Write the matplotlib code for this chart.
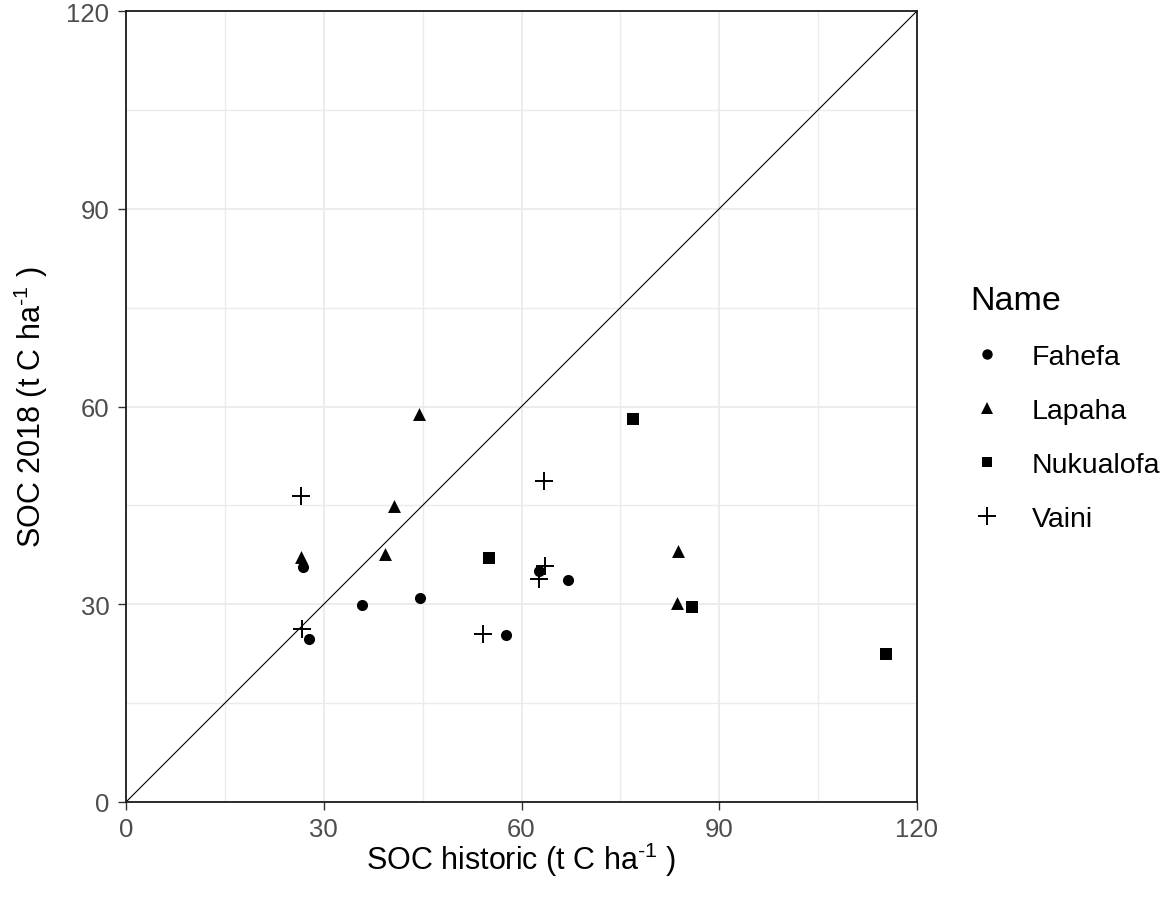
import matplotlib
matplotlib.use("Agg")
import matplotlib.pyplot as plt
from matplotlib.lines import Line2D

plt.rcParams['font.family'] = ['Liberation Sans', 'DejaVu Sans']
plt.rcParams['mathtext.fontset'] = 'custom'
plt.rcParams['mathtext.rm'] = 'Liberation Sans'
plt.rcParams['mathtext.it'] = 'Liberation Sans'

# Data
fahefa_x = [27.7, 26.8, 35.8, 44.6, 57.7, 62.7, 67.1]
fahefa_y = [24.7, 35.7, 29.9, 31.0, 25.3, 35.0, 33.7]
lapaha_x = [44.5, 40.7, 26.6, 39.3, 83.8, 83.6]
lapaha_y = [58.8, 44.9, 37.2, 37.6, 38.1, 30.2]
nuku_x = [76.9, 55.1, 85.9, 115.3]
nuku_y = [58.1, 37.0, 29.6, 22.5]
vaini_x = [26.6, 26.7, 63.4, 63.6, 62.7, 54.2]
vaini_y = [46.4, 26.3, 48.7, 35.8, 33.8, 25.5]

names = ["Fahefa", "Lapaha", "Nukualofa", "Vaini"]
ticks = [0, 30, 60, 90, 120]
minor_ticks = [15, 45, 75, 105]

W, H = 1171, 904
fig = plt.figure(figsize=(W / 100, H / 100), dpi=100)
ax = fig.add_axes([126 / W, 1 - 803 / H, (917 - 126) / W, (803 - 12) / H])

ax.set_xlim(0, 120)
ax.set_ylim(0, 120)
ax.set_xticks(ticks)
ax.set_yticks(ticks)
ax.set_xticks(minor_ticks, minor=True)
ax.set_yticks(minor_ticks, minor=True)
ax.grid(True, which='major', color='#EBEBEB', linewidth=1.3, zorder=0)
ax.grid(True, which='minor', color='#EBEBEB', linewidth=1.0, zorder=0)
ax.set_axisbelow(True)
ax.tick_params(which='minor', length=0)
ax.tick_params(which='major', length=6, width=1.0, color='#333333',
               labelcolor='#4D4D4D', labelsize=18.5)
ax.tick_params(axis='x', which='major', pad=5)
ax.tick_params(axis='y', which='major', pad=6)
for sp in ax.spines.values():
    sp.set_color('#1A1A1A')
    sp.set_linewidth(1.3)

# identity line
ax.plot([0, 120], [0, 120], color='black', linewidth=0.8, zorder=2)

ax.scatter(fahefa_x, fahefa_y, marker='o', s=8.0 ** 2, color='black', linewidths=0, zorder=3)
ax.scatter(lapaha_x, lapaha_y, marker='^', s=9.3 ** 2, color='black', linewidths=0, zorder=3)
ax.scatter(nuku_x, nuku_y, marker='s', s=8.2 ** 2, color='black', linewidths=0, zorder=3)
ax.scatter(vaini_x, vaini_y, marker='+', s=13.5 ** 2, color='black', linewidths=1.4, zorder=3)

ax.set_xlabel(r"SOC historic (t C ha$^{\text{-1}}$ )", fontsize=22, color='black', labelpad=-1)
ax.set_ylabel(r"SOC 2018 (t C ha$^{\text{-1}}$ )", fontsize=22, color='black', labelpad=12)

handles = [
    Line2D([], [], linestyle='none', marker='o', markersize=7.5, color='black', markeredgewidth=0),
    Line2D([], [], linestyle='none', marker='^', markersize=8.5, color='black', markeredgewidth=0),
    Line2D([], [], linestyle='none', marker='s', markersize=7.8, color='black', markeredgewidth=0),
    Line2D([], [], linestyle='none', marker='+', markersize=13, color='black', markeredgewidth=1.4),
]
leg = fig.legend(handles, names, loc='upper left', bbox_to_anchor=(956 / W, 1 - 272 / H),
                 frameon=False, title="Name", fontsize=20.5, title_fontsize=24.5,
                 handlelength=1.2, handletextpad=0.95, labelspacing=0.98,
                 alignment='left', borderpad=0)

fig.savefig("out.png", dpi=100)
